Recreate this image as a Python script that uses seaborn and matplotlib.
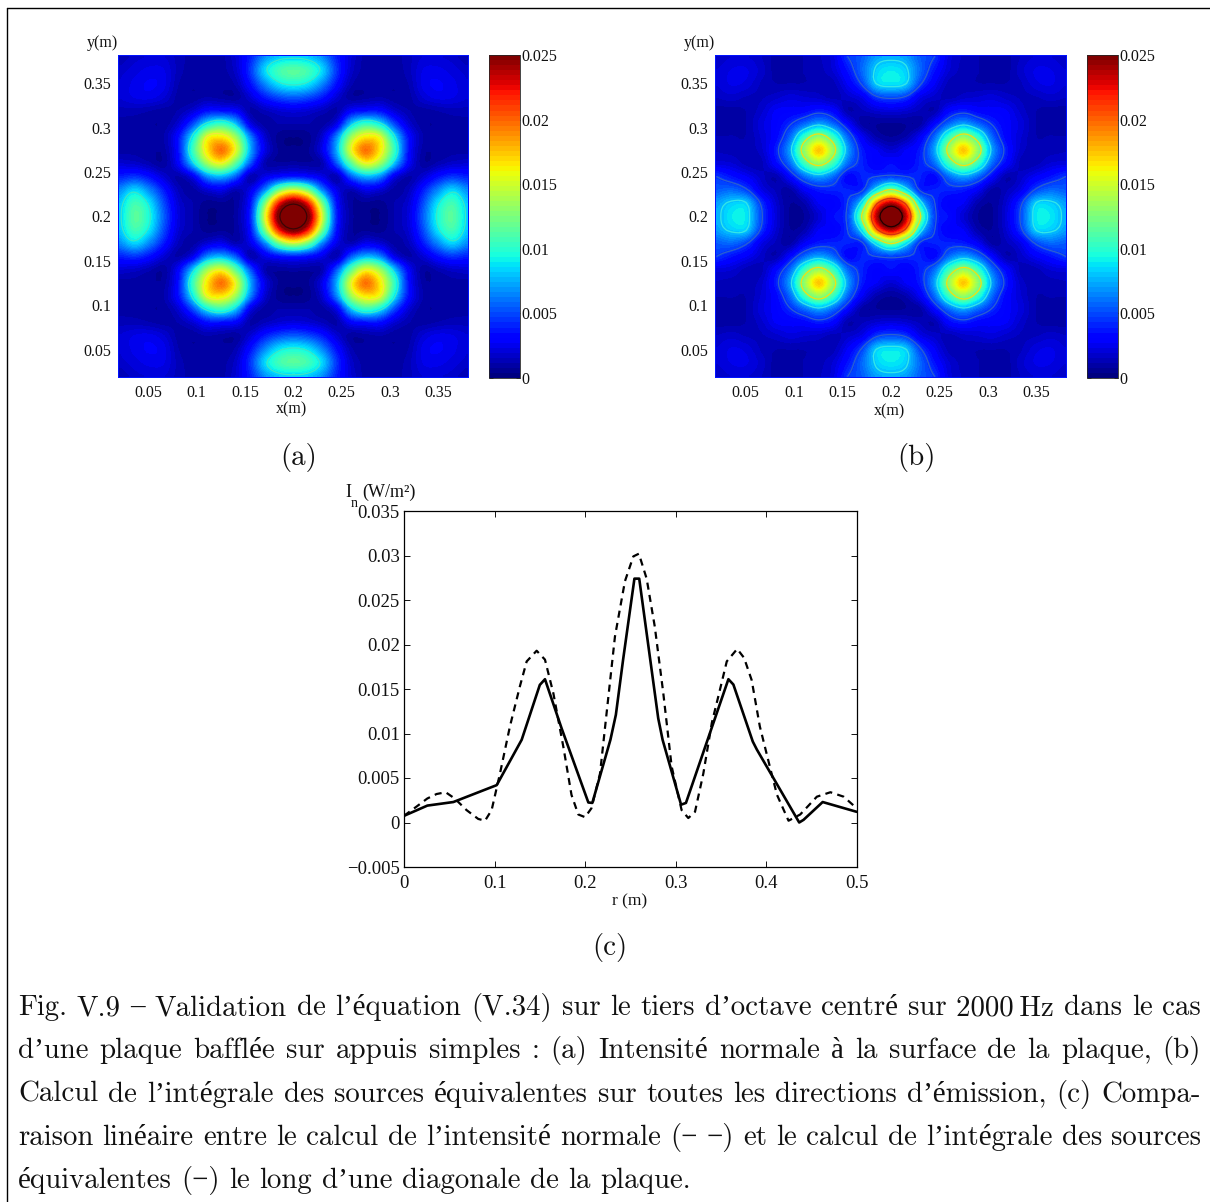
import warnings
import numpy as np
import pandas as pd
import matplotlib
matplotlib.use("Agg")
import matplotlib.pyplot as plt
import seaborn as sns

warnings.filterwarnings("ignore")

# ---- data -----------------------------------------------------------------
# one quadrant of each map: rows dy, columns dx, distance to plate centre (m)
OFFSETS = [0, .015, .03, .045, .06, .075, .09, .105, .12, .135, .15, .165, .18]
MAP_A = [
 [.029, .0258, .015, .004, .001, .0005, .0004, .0012, .0022, .0055, .0095, .0115, .0085],
 [.0258, .0222, .0125, .0035, .0009, .0007, .0006, .0012, .002, .005, .0088, .0108, .0082],
 [.015, .0125, .0065, .0025, .0013, .0025, .002, .001, .0015, .0038, .0065, .0085, .0068],
 [.004, .0035, .0025, .0012, .0053, .0075, .0065, .0025, .0011, .002, .0035, .0045, .004],
 [.001, .0009, .0013, .0053, .0115, .0155, .0135, .008, .003, .0009, .0013, .0018, .002],
 [.0005, .0007, .0025, .0075, .0155, .0197, .0165, .0105, .0035, .001, .0009, .001, .001],
 [.0004, .0006, .002, .0065, .0135, .0165, .0155, .009, .0035, .0012, .0009, .0009, .0009],
 [.0012, .0012, .001, .0025, .008, .0105, .009, .005, .002, .0009, .0008, .0009, .001],
 [.0022, .002, .0015, .0011, .003, .0035, .0035, .002, .0012, .001, .0012, .0014, .0014],
 [.0055, .005, .0038, .002, .0009, .001, .0012, .0009, .001, .002, .0025, .0024, .002],
 [.0095, .0088, .0065, .0035, .0013, .0009, .0009, .0008, .0012, .0025, .0028, .0025, .002],
 [.0115, .0108, .0085, .0045, .0018, .001, .0009, .0009, .0014, .0024, .0025, .0022, .0018],
 [.0085, .0082, .0068, .004, .002, .001, .0009, .001, .0014, .002, .002, .0018, .0012],
]
MAP_B = [
 [.0285, .0238, .0125, .0048, .0035, .002, .0008, .0007, .0022, .005, .0088, .009, .0075],
 [.0238, .0195, .009, .0045, .003, .0028, .0012, .0008, .002, .0045, .0082, .0083, .0072],
 [.0125, .009, .0042, .004, .004, .0038, .0028, .001, .0015, .0025, .0048, .0058, .0055],
 [.0048, .0045, .004, .0032, .0058, .0072, .0058, .0032, .0012, .0018, .0028, .0036, .0045],
 [.0035, .003, .004, .0058, .0105, .0133, .0105, .0058, .0032, .0014, .0014, .002, .0022],
 [.002, .0028, .0038, .0072, .0133, .0175, .0133, .0072, .0038, .0018, .0014, .0014, .0015],
 [.0008, .0012, .0028, .0058, .0105, .0133, .0105, .0058, .0032, .002, .0012, .0012, .0012],
 [.0007, .0008, .001, .0032, .0058, .0072, .0058, .0042, .003, .0022, .0012, .001, .001],
 [.0022, .002, .0015, .0012, .0032, .0038, .0032, .003, .0028, .0018, .0012, .001, .001],
 [.005, .0045, .0025, .0018, .0014, .0018, .002, .0022, .0018, .0015, .0015, .0018, .0016],
 [.0088, .0082, .0048, .0028, .0014, .0014, .0012, .0012, .0012, .0015, .0022, .0024, .002],
 [.009, .0083, .0058, .0036, .002, .0014, .0012, .001, .001, .0018, .0024, .0024, .002],
 [.0075, .0072, .0055, .0045, .0022, .0015, .0012, .001, .001, .0016, .002, .002, .0016],
]
MAP_TICKS = [.05, .1, .15, .2, .25, .3, .35]
MAP_TICK_LABELS = ["0.05", "0.1", "0.15", "0.2", "0.25", "0.3", "0.35"]
CBAR_TICKS = [0, .005, .01, .015, .02, .025]
CBAR_LABELS = ["0", "0.005", "0.01", "0.015", "0.02", "0.025"]

R_SOLID = [0, .0258, .0545, .1024, .130, .150, .1557, .174, .2036, .208, .228, .234, .242,
           .2545, .2598, .2808, .2856, .306, .3114, .3583, .3638, .3852, .3897, .4365,
           .4413, .4624, .5]
I_SOLID = [.00075, .0019, .0023, .0042, .0093, .01546, .0161, .0106, .00225, .0022, .0093,
           .0121, .0183, .0274, .0274, .0117, .0093, .002, .0022, .0161, .0155, .0091,
           .0082, 0, .0003, .0023, .0012]
R_DASH = [0, .014, .0258, .036, .046, .056, .069, .082, .0895, .0968, .106, .117, .128,
          .1355, .1465, .1557, .165, .176, .185, .1925, .2, .207, .2165, .2257, .233, .244,
          .2533, .2594, .268, .277, .2863, .2956, .3066, .314, .3214, .3306, .34, .347,
          .3565, .368, .3756, .384, .393, .404, .412, .4247, .4376, .456, .471, .4856, .5]
I_DASH = [.00075, .0018, .0027, .0032, .0034, .0027, .0014, .0004, .0002, .0014, .0055, .0108,
          .0153, .0181, .0193, .0183, .0145, .0085, .0031, .0009, .0006, .0016, .0055, .0141,
          .0209, .0271, .0299, .0302, .0274, .022, .0146, .0063, .0014, .0005, .0012, .0055,
          .0112, .0141, .0181, .0195, .0185, .016, .0108, .0063, .0031, .0002, .0009, .0029,
          .0034, .0029, .0016]
R_TICKS = [0, .1, .2, .3, .4, .5]
R_LABELS = ["0", "0.1", "0.2", "0.3", "0.4", "0.5"]
I_TICKS = [-.005, 0, .005, .01, .015, .02, .025, .03, .035]
I_LABELS = ["\u22120.005", "0", "0.005", "0.01", "0.015", "0.02", "0.025", "0.03", "0.035"]

CAPTION = [
 "Fig. V.9 \u2013 Validation de l\u2019équation (V.34) sur le tiers d\u2019octave centré sur 2000\u2009Hz dans le cas",
 "d\u2019une plaque bafflée sur appuis simples : (a) Intensité normale à la surface de la plaque, (b)",
 "Calcul de l\u2019intégrale des sources équivalentes sur toutes les directions d\u2019émission, (c) Compa-",
 "raison linéaire entre le calcul de l\u2019intensité normale (\u2212 \u2212) et le calcul de l\u2019intégrale des sources",
 "équivalentes (\u2212) le long d\u2019une diagonale de la plaque.",
]

# ---- style ----------------------------------------------------------------
sns.set_theme(style="white")
SERIF = ["Liberation Serif", "DejaVu Serif"]
CM = ["cmr10", "Liberation Serif", "DejaVu Serif"]
plt.rcParams["font.family"] = SERIF
plt.rcParams["axes.formatter.use_mathtext"] = True
W, H = 1210, 1202
fig = plt.figure(figsize=(W / 100, H / 100), dpi=100, facecolor="white")


def box(l, t, r, b):
    return [l / W, 1 - b / H, (r - l) / W, (b - t) / H]


def full_map(q):
    q = np.array(q)
    right = np.hstack([q[:, :0:-1], q])
    return np.vstack([right[:0:-1], right])


def refine(z, n=4):
    """Catmull-Rom display refinement of a typed grid, so the rings are not square."""
    def along(a):
        a = np.concatenate([2 * a[:1] - a[1:2], a, 2 * a[-1:] - a[-2:-1]], axis=0)
        out = []
        for i in range(1, a.shape[0] - 2):
            for k in range(n):
                t = k / n
                out.append(.5 * (2 * a[i] + (a[i + 1] - a[i - 1]) * t
                                 + (2 * a[i - 1] - 5 * a[i] + 4 * a[i + 1] - a[i + 2]) * t ** 2
                                 + (3 * a[i] - a[i - 1] - 3 * a[i + 1] + a[i + 2]) * t ** 3))
        out.append(a[-2])
        return np.array(out)
    return along(along(z).T).T


LO, HI = 0.0185, 0.3815
off = np.array(OFFSETS)
axis_vals = np.concatenate([0.2 - off[:0:-1], 0.2 + off])
fine_vals = np.linspace(axis_vals[0], axis_vals[-1], (len(axis_vals) - 1) * 4 + 1)
cmap = plt.get_cmap("jet", 64)


def draw_map(grid, map_box, cbar_box, levels, ring_colors, xlab_y, ylab_x):
    ax = fig.add_axes(box(*map_box))
    fine = refine(grid)
    im = ax.imshow(fine, origin="lower", extent=[fine_vals[0], fine_vals[-1], fine_vals[0], fine_vals[-1]],
                   cmap=cmap, vmin=0, vmax=.025, interpolation="bilinear", aspect="auto")
    ax.contour(fine_vals, fine_vals, fine, levels=levels, colors=ring_colors, linewidths=0.9)
    ax.set_xlim(LO, HI)
    ax.set_ylim(LO, HI)
    ax.set_facecolor(cmap(0.15))
    ax.set_xticks(MAP_TICKS, MAP_TICK_LABELS)
    ax.set_yticks(MAP_TICKS, MAP_TICK_LABELS)
    ax.tick_params(length=0, labelsize=11.5, pad=5, colors="#111111")
    for s in ax.spines.values():
        s.set_visible(False)
    fig.text((map_box[0] + map_box[2]) / 2 / W - 2 / W, 1 - xlab_y / H, "x(m)", fontsize=11.5,
             ha="center", va="center", color="#111111")
    fig.text(ylab_x / W, 1 - 43 / H, "y(m)", fontsize=11.5, ha="center", va="center",
             color="#111111")
    cax = fig.add_axes(box(*cbar_box))
    cb = fig.colorbar(im, cax=cax)
    cb.set_ticks(CBAR_TICKS, labels=CBAR_LABELS)
    cax.tick_params(right=True, left=True, direction="in", length=3, width=.6,
                    labelsize=11.5, pad=1, colors="#111111")
    cb.outline.set_linewidth(.6)
    return ax


draw_map(full_map(MAP_A), (117.7, 55, 469, 378), (489.3, 55, 520, 378), [.009, .0155, .0262],
         ["#39e6c8", "#f2e83a", "#3a0505"], 409, 102)
draw_map(full_map(MAP_B), (715, 55, 1067.3, 378), (1087.3, 55, 1118, 378),
         [.0045, .008, .0122, .02, .0255],
         ["#2a5fd0", "#35e6e6", "#f2e010", "#d83010", "#200000"], 411, 699)

# panel (c)
axc = fig.add_axes(box(404, 511, 856.7, 867))
solid = pd.DataFrame({"r": R_SOLID, "I": I_SOLID})
dash = pd.DataFrame({"r": R_DASH, "I": I_DASH})
sns.lineplot(data=dash, x="r", y="I", ax=axc, color="black", lw=1.6, sort=False, estimator=None,
             linestyle=(0, (3.2, 2.4)))
sns.lineplot(data=solid, x="r", y="I", ax=axc, color="black", lw=1.9, sort=False, estimator=None)
axc.set_xlim(0, .5)
axc.set_ylim(-.005, .035)
axc.set_xticks(R_TICKS, R_LABELS)
axc.set_yticks(I_TICKS, I_LABELS)
axc.set_xlabel("")
axc.set_ylabel("")
axc.tick_params(direction="in", top=True, right=True, bottom=True, left=True, length=4, width=.7,
                labelsize=13.5, colors="#111111")
axc.tick_params(axis="x", pad=6)
axc.tick_params(axis="y", pad=3)
for s in axc.spines.values():
    s.set_linewidth(.9)
    s.set_color("black")
    s.set_visible(True)
fig.text(630 / W, 1 - 901 / H, "r (m)", fontsize=12.5, ha="center", va="center", color="#111111")
fig.text(345 / W, 1 - 492 / H, "I", fontsize=13, ha="left", va="center", color="#111111")
fig.text(351 / W, 1 - 503 / H, "n", fontsize=10, ha="left", va="center", color="#111111")
fig.text(362 / W, 1 - 492 / H, "(W/m²)", fontsize=13, ha="left", va="center", color="#111111")

# sub-captions
for x, y, t in [(299, 457, "(a)"), (916, 457, "(b)"), (610, 948, "(c)")]:
    fig.text(x / W, 1 - y / H, t, fontsize=20.8, family=CM, ha="center", va="center",
             color="#111111")

# justified caption
fig.canvas.draw()
rend = fig.canvas.get_renderer()
X0, X1 = 18, 1201
Y0, DY = 1015, 43.3
for i, line in enumerate(CAPTION):
    y = 1 - (Y0 + i * DY) / H
    words = line.split(" ")
    arts = [fig.text(0, y, w, fontsize=20.8, family=CM, ha="left", va="baseline",
                     color="#111111") for w in words]
    widths = [a.get_window_extent(rend).width for a in arts]
    if i < len(CAPTION) - 1:
        gap = (X1 - X0 - sum(widths)) / (len(words) - 1)
    else:
        gap = 9.5
    x = X0
    for a, w in zip(arts, widths):
        a.set_x(x / W)
        x += w + gap

# page frame
fig.add_artist(plt.Line2D([7 / W, 7 / W], [0, 1 - 8 / H], color="black", lw=1))
fig.add_artist(plt.Line2D([7 / W, 1], [1 - 8 / H, 1 - 8 / H], color="black", lw=1))

fig.savefig("out.png", dpi=100)
